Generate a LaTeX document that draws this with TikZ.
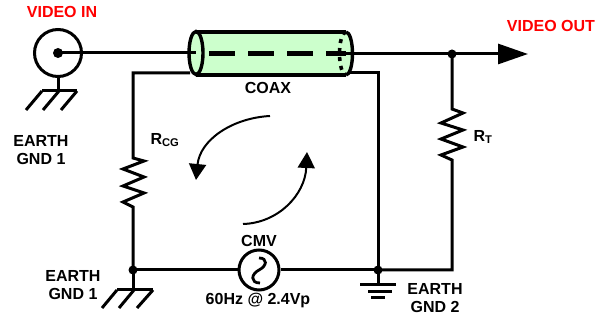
\documentclass[tikz,border=0pt]{standalone}
\usepackage{fontspec}
\setmainfont{Liberation Sans}
\usetikzlibrary{arrows.meta}
\definecolor{coaxgreen}{RGB}{204,255,204}
\tikzset{
  wire/.style={line width=3pt,line join=miter},
  lbl/.style={font=\fontsize{16}{18.5}\selectfont\bfseries,align=center,inner sep=0pt,text=black},
  red lbl/.style={lbl,text=red},
  dot/.style={circle,fill=black,inner sep=0pt,minimum size=9pt},
  terminal/.style={circle,draw=black,line width=3pt,inner sep=0pt},
  flow/.style={line width=2pt,-{Triangle[length=16pt,width=17pt]}},
}
\begin{document}
\begin{tikzpicture}[x=1pt,y=-1pt]
\useasboundingbox (0,0) rectangle (603,320);
% coax body
\fill[coaxgreen] (196,32) -- (346,32) arc[start angle=-90,end angle=90,x radius=7,y radius=21.5] -- (196,75) arc[start angle=90,end angle=270,x radius=7,y radius=21.5] -- cycle;
\node[terminal,minimum size=47pt] (vin) at (58,53) {};
\node[dot,minimum size=10pt] (vcore) at (58,53) {};
\coordinate (cl) at (196,53);
\coordinate (cr) at (346,54);
\node[dot] (jt) at (452,54) {};
\coordinate (tip) at (528,54);
\draw[wire] (vcore.center) -- (cl);
\draw[wire] (cr) -- (jt.center);
\draw[wire,-{Triangle[length=30pt,width=20pt]}] (jt.center) -- (tip);
\draw[line width=3.4pt] (196,32) -- (346,32) (196,75) -- (346,75);
\draw[line width=3.4pt] (196,53) ellipse[x radius=7,y radius=21.5];
\draw[line width=3.4pt] (346,32) arc[start angle=-90,end angle=90,x radius=6.5,y radius=21.5];
\draw[line width=3.6pt,dash pattern=on 4pt off 5pt] (346,32) arc[start angle=270,end angle=90,x radius=6.5,y radius=21.5];
\draw[line width=4.2pt,dash pattern=on 26pt off 13pt] (209,53.5) -- (346,53.5);
% nodes
\node[dot] (j1) at (133,270) {};
\node[dot] (j2) at (378,270) {};
\node[terminal,fill=white,minimum size=40pt] (cmv) at (259,270) {};
\coordinate (s1) at (190,73);
\coordinate (s1c) at (133,73);
\coordinate (s2) at (350,73);
\coordinate (s2c) at (378,73);
\coordinate (rbr) at (452,270);
% shield, loop
\draw[wire] (s1) -- (s1c) -- (133,158) -- (144,161) -- (123,169) -- (144,177) -- (123,186) -- (144,193) -- (123,202) -- (133,207) -- (j1.center);
\draw[wire] (s2) -- (s2c) -- (j2.center);
\draw[wire] (jt.center) -- (452,109) -- (463,113) -- (441,123) -- (463,130) -- (441,139) -- (463,147) -- (441,155) -- (452,160) -- (rbr) -- (j2.center);
\draw[wire] (j1.center) -- (cmv);
\draw[wire] (cmv) -- (j2.center);
% sine
\draw[line width=2.8pt] (259,258) .. controls (268,258) and (267,266) .. (259,270) .. controls (251,274) and (250,283) .. (260,283);
% grounds
\coordinate (g1) at (58,91);
\draw[wire] (vin) -- (g1);
\draw[wire] (42,91) -- (77,91);
\draw[wire] (42,91) -- (26,110) (59,91) -- (43,110) (77,91) -- (61,110);
\coordinate (g2) at (133,290);
\draw[wire] (j1.center) -- (g2);
\draw[wire] (117,290) -- (153,290);
\draw[wire] (117,290) -- (102,308) (134,290) -- (119,308) (153,290) -- (137,308);
\coordinate (g3) at (378,285);
\draw[wire] (j2.center) -- (g3);
\draw[wire] (360,285) -- (396,285) (368,292) -- (392,292) (371,298) -- (385,298);
% flow arrows
\coordinate (a1s) at (270,116);
\coordinate (a1e) at (196,180);
\coordinate (a2s) at (243,224);
\coordinate (a2e) at (307,152);
\draw[flow] (a1s) .. controls (232,118) and (200,140) .. (a1e);
\draw[flow] (a2s) .. controls (278,223) and (305,195) .. (a2e);
% labels
\node[red lbl] (l1) at (62,12) {VIDEO IN};
\node[red lbl] (l2) at (551,26) {VIDEO OUT};
\node[lbl] (l3) at (41,150) {EARTH\\GND 1};
\node[lbl] (l4) at (73,285) {EARTH\\GND 1};
\node[lbl] (l5) at (268,88) {COAX};
\node[lbl] (l6) at (259,241) {CMV};
\node[lbl] (l7) at (258,300) {60Hz @ 2.4Vp};
\node[lbl] (l8) at (435,298) {EARTH\\GND 2};
\node[lbl] (l9) at (165,140) {R\textsubscript{CG}};
\node[lbl] (l10) at (483,137) {R\textsubscript{T}};
\end{tikzpicture}
\end{document}
